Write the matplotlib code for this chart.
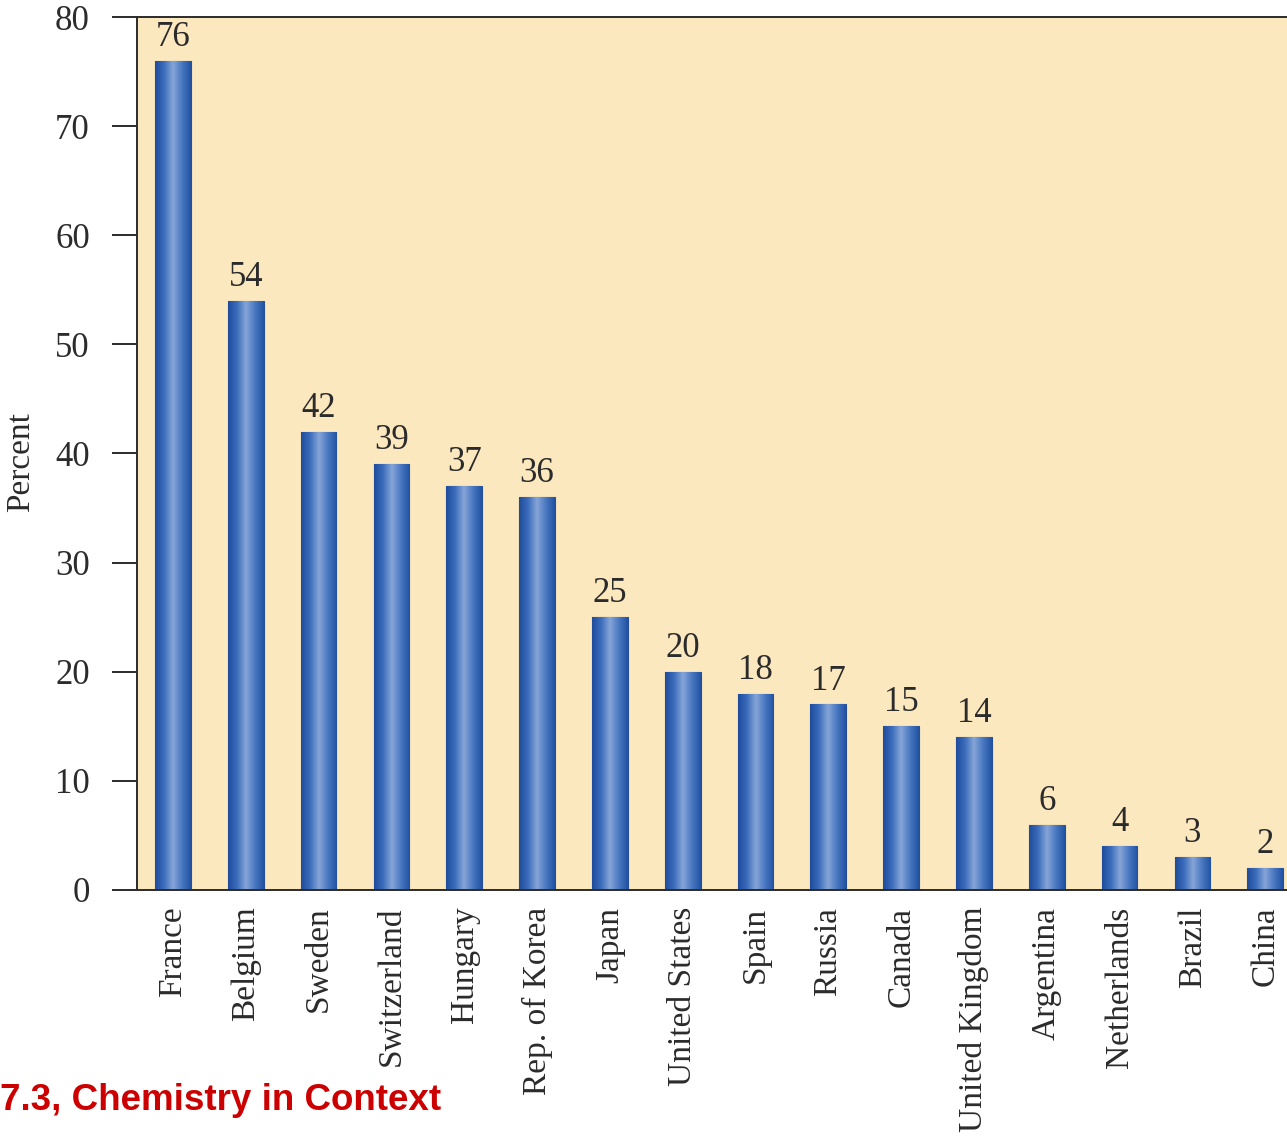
import numpy as np
import matplotlib
matplotlib.use("Agg")
import matplotlib.pyplot as plt
from matplotlib.colors import LinearSegmentedColormap

countries = ["France", "Belgium", "Sweden", "Switzerland", "Hungary", "Rep. of Korea",
             "Japan", "United States", "Spain", "Russia", "Canada", "United Kingdom",
             "Argentina", "Netherlands", "Brazil", "China"]
percent = [76, 54, 42, 39, 37, 36, 25, 20, 18, 17, 15, 14, 6, 4, 3, 2]
yticks = [0, 10, 20, 30, 40, 50, 60, 70, 80]

serif = "Liberation Serif"
ink = "#2b2b2b"

fig = plt.figure(figsize=(12.87, 11.36), dpi=100)
ax = fig.add_axes([137 / 1287, 1 - 890 / 1136, 1 - 137 / 1287, (890 - 17) / 1136])
ax.set_facecolor("#FCE8BE")

x = np.arange(len(countries))
bars = ax.bar(x, percent, width=0.49, color="#2f5fae", edgecolor="#244f98",
              linewidth=0.8, zorder=2)

# blue cylinder shading: dark edges, light middle
shade = LinearSegmentedColormap.from_list(
    "bar", ["#1f4c9c", "#3b6cbb", "#86a5d8", "#4a78c2", "#2152a2"])
grad = np.linspace(0, 1, 256).reshape(1, -1)
for b in bars:
    bx, by = b.get_x(), b.get_y()
    im = ax.imshow(grad, cmap=shade, aspect="auto", zorder=2.5,
                   extent=(bx, bx + b.get_width(), by, by + b.get_height()))
    im.set_clip_path(b)

for xi, v in zip(x, percent):
    ax.annotate(str(v), (xi, v), xytext=(0, 5), textcoords="offset points",
                ha="center", va="bottom", fontsize=25, family=serif, color=ink)

ax.set_xlim(-0.495, 15.3)
ax.set_ylim(0, 80)
ax.set_yticks(yticks)
ax.set_yticklabels([str(t) for t in yticks], fontsize=25, family=serif, color=ink)
ax.set_xticks(x)
ax.set_xticklabels(countries, rotation=90, fontsize=24, family=serif, color=ink)
ax.tick_params(axis="y", direction="out", length=18, width=1.4, pad=16, color=ink)
ax.tick_params(axis="x", length=0, pad=12)

for side in ["left", "top", "bottom"]:
    ax.spines[side].set_linewidth(1.4)
    ax.spines[side].set_color(ink)
ax.spines["right"].set_visible(False)

ax.set_ylabel("Percent", fontsize=24, family=serif, color=ink)
ax.yaxis.set_label_coords(-0.088, 0.49)

fig.text(0.0, 1 - 1101 / 1136, "7.3, Chemistry in Context", ha="left", va="center",
         fontsize=26.5, fontweight="bold", family="Liberation Sans", color="#CC0000")

fig.savefig("out.png", dpi=100)
